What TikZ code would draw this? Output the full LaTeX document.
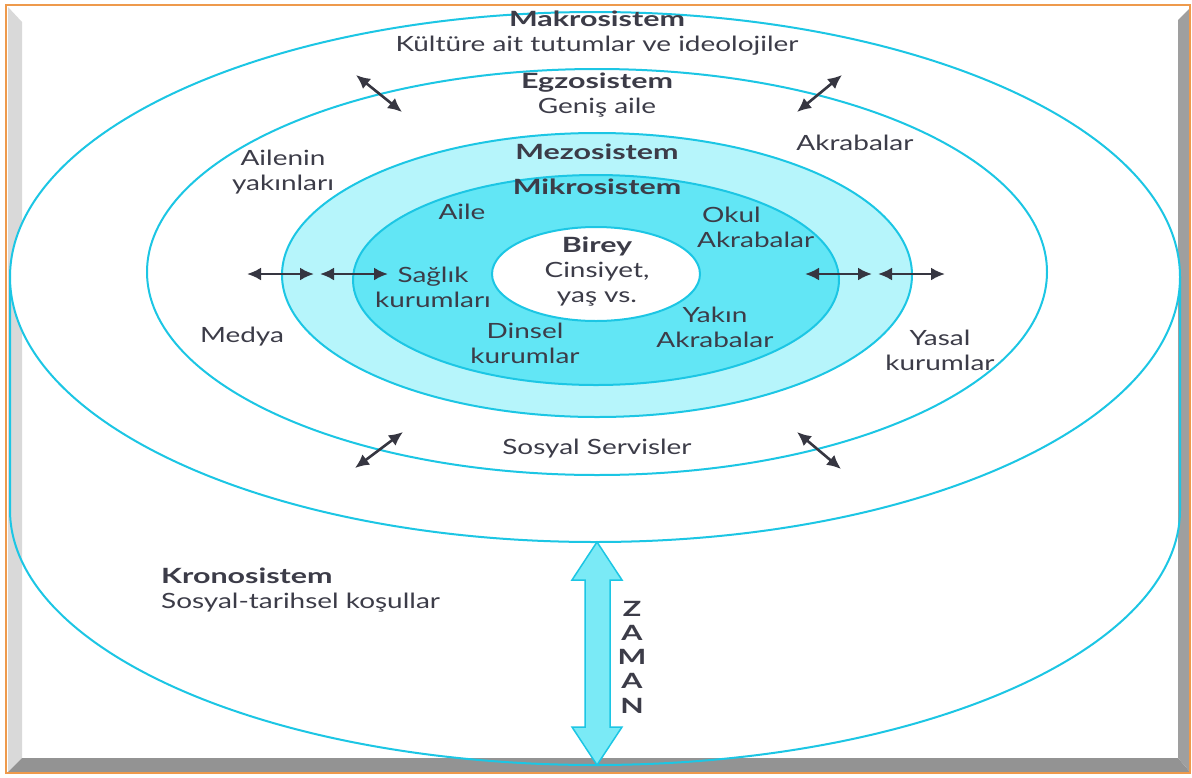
\documentclass[tikz,border=0pt]{standalone}
\usepackage{fontspec}
\setmainfont{Lato}[FakeStretch=1.33, BoldFeatures={FakeStretch=1.45}]
\usepackage{tikz}
\usetikzlibrary{positioning, calc, shapes.geometric, arrows.meta, arrows}
\usepackage{xcolor}
\definecolor{ring}{HTML}{1CC6E4}
\definecolor{meso}{HTML}{B6F5FB}
\definecolor{mikro}{HTML}{62E6F5}
\definecolor{ink}{HTML}{3C3C48}
\definecolor{frame}{HTML}{EE9A4C}
\tikzstyle{Arrow} = [
line width=2.6pt, draw=ink!90!black,
{Latex[length=14pt,width=13pt]}-{Latex[length=14pt,width=13pt]}]
\tikzstyle{Ring} = [draw=ring, line width=2pt]
\tikzstyle{Label} = [text=ink, inner sep=1pt, align=center,
font=\fontsize{21}{25}\selectfont]

\begin{document}
\begin{tikzpicture}[x=1pt, y=1pt]
    \useasboundingbox (0,0) rectangle (1192,-777);
    % frame
    \fill[white] (6,-5) rectangle (1190,-773);
    \fill[gray!30] (8,-7) -- (22,-22) -- (22,-758) -- (8,-772) -- cycle;
    \fill[gray!85] (8,-772) -- (22,-758) -- (1178,-758) -- (1190,-772) -- cycle;
    \fill[gray!75] (1178,-20) -- (1190,-8) -- (1190,-772) -- (1178,-758) -- cycle;
    \draw[frame, line width=2pt] (6,-5) rectangle (1190,-773);

    % cylinder and systems
    \draw[Ring] (10,-277) -- (10,-510)
        arc[start angle=180, end angle=360, x radius=585pt, y radius=255pt]
        -- (1180,-277);
    \draw[Ring, fill=white] (595,-277) ellipse [x radius=585pt, y radius=265pt];
    \draw[Ring] (597,-272) ellipse [x radius=450pt, y radius=203pt];
    \draw[Ring, fill=meso] (597,-275) ellipse [x radius=315pt, y radius=142pt];
    \draw[Ring, fill=mikro] (596,-280) ellipse [x radius=243pt, y radius=105pt];
    \draw[Ring, fill=white] (596,-274) ellipse [x radius=104pt, y radius=47pt];

    % time
    \draw[ring, line width=1.5pt, fill=mikro!85!white]
        (597,-542) -- (622,-580) -- (610,-580) -- (610,-727) -- (622,-727)
        -- (597,-765) -- (572,-727) -- (585,-727) -- (585,-580) -- (572,-580) -- cycle;

    \node[Label] (1) at (597,-33) {\textbf{Makrosistem}\\Kültüre ait tutumlar ve ideolojiler};
    \node[Label] (2) at (597,-95) {\textbf{Egzosistem}\\Geniş aile};
    \node[Label] (3) at (283,-172) {Ailenin\\yakınları};
    \node[Label] (4) at (855,-143) {Akrabalar};
    \node[Label] (5) at (597,-152) {\textbf{Mezosistem}};
    \node[Label] (6) at (597,-187) {\textbf{Mikrosistem}};
    \node[Label] (7) at (462,-212) {Aile};
    \node[Label, align=left, anchor=west] (8) at (696,-227) {\hspace{5pt}Okul\\Akrabalar};
    \node[Label] (9) at (597,-272) {\textbf{Birey}\\Cinsiyet,\\yaş vs.};
    \node[Label] (10) at (433,-287) {Sağlık\\kurumları};
    \node[Label] (11) at (525,-343) {Dinsel\\kurumlar};
    \node[Label] (12) at (715,-327) {Yakın\\Akrabalar};
    \node[Label] (13) at (242,-337) {Medya};
    \node[Label] (14) at (940,-350) {Yasal\\kurumlar};
    \node[Label] (15) at (597,-449) {Sosyal Servisler};
    \node[Label, align=left, anchor=west] (16) at (160,-590) {\textbf{Kronosistem}\\Sosyal-tarihsel koşullar};
    \node[Label, font=\fontsize{21}{24.3}\selectfont\bfseries] (17) at (632,-657) {Z\\A\\M\\A\\N};

    % arrows between the systems
    \coordinate (a1) at (356,-75);   \coordinate (a2) at (402,-112);
    \coordinate (b1) at (842,-75);   \coordinate (b2) at (797,-112);
    \coordinate (c1) at (247,-274);  \coordinate (c2) at (314,-274);
    \coordinate (c3) at (320,-274);  \coordinate (c4) at (388,-274);
    \coordinate (d1) at (805,-274);  \coordinate (d2) at (872,-274);
    \coordinate (d3) at (878,-274);  \coordinate (d4) at (945,-274);
    \coordinate (e1) at (355,-468);  \coordinate (e2) at (403,-432);
    \coordinate (f1) at (797,-432);  \coordinate (f2) at (841,-469);
    \draw[Arrow] (a1) -- (a2);
    \draw[Arrow] (b1) -- (b2);
    \draw[Arrow] (c1) -- (c2);
    \draw[Arrow] (c3) -- (c4);
    \draw[Arrow] (d1) -- (d2);
    \draw[Arrow] (d3) -- (d4);
    \draw[Arrow] (e1) -- (e2);
    \draw[Arrow] (f1) -- (f2);
\end{tikzpicture}
\end{document}
